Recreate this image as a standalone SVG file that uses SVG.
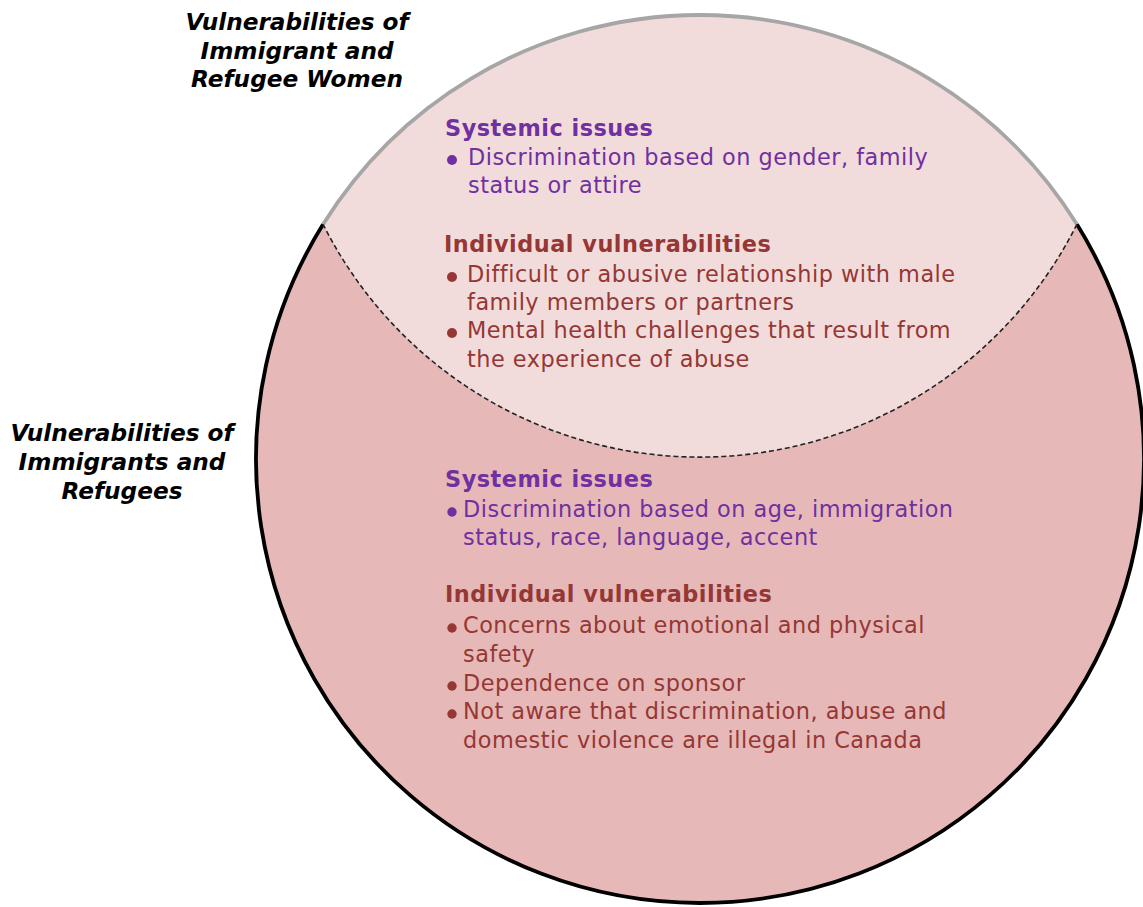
<svg xmlns="http://www.w3.org/2000/svg" width="1143" height="907" viewBox="0 0 1143 907">
<style>
.lbl{font-family:"DejaVu Sans",Verdana,sans-serif;font-weight:bold;font-style:italic;font-size:23.2px;fill:#000;text-anchor:middle}
.hd{font-family:"DejaVu Sans",Verdana,sans-serif;font-weight:bold;font-size:22.4px;letter-spacing:0.5px}
.tx{font-family:"DejaVu Sans",Verdana,sans-serif;font-size:22.4px;letter-spacing:0.5px}
.pu{fill:#7030A0}
.br{fill:#953735}
</style>
<rect width="1143" height="907" fill="#fff"/>
<g id="outer-circle">
<circle cx="700" cy="459" r="444" fill="#E6B9B8"/>
<path d="M1076.9,224.3 A444,444 0 1 1 323.1,224.3" fill="none" stroke="#000" stroke-width="3.8"/>
</g>
<g id="inner-lens">
<path d="M323.1,224.3 A444,444 0 0 1 1076.9,224.3 A421.5,421.5 0 0 1 323.1,224.3 Z" fill="#F2DCDB"/>
<path d="M323.1,224.3 A444,444 0 0 1 1076.9,224.3" fill="none" stroke="#A6A6A6" stroke-width="3.8"/>
</g>
<g id="connectors">
<path d="M1076.9,224.3 A421.5,421.5 0 0 1 323.1,224.3" fill="none" stroke="#222" stroke-width="1.6" stroke-dasharray="5,3"/>
</g>
<g id="label-women">
<text class="lbl" x="297" y="30">Vulnerabilities of</text>
<text class="lbl" x="297" y="59">Immigrant and</text>
<text class="lbl" x="297" y="87">Refugee Women</text>
</g>
<g id="label-all">
<text class="lbl" x="122" y="441">Vulnerabilities of</text>
<text class="lbl" x="122" y="470">Immigrants and</text>
<text class="lbl" x="122" y="499">Refugees</text>
</g>
<g id="women-content">
<text class="hd pu" x="445" y="136">Systemic issues</text>
<circle class="pu" cx="452" cy="160" r="5"/>
<text class="tx pu" x="468" y="165">Discrimination based on gender, family</text>
<text class="tx pu" x="468" y="193">status or attire</text>
<text class="hd br" x="444" y="252">Individual vulnerabilities</text>
<circle class="br" cx="452" cy="277" r="5"/>
<text class="tx br" x="467" y="282">Difficult or abusive relationship with male</text>
<text class="tx br" x="467" y="310">family members or partners</text>
<circle class="br" cx="452" cy="333" r="5"/>
<text class="tx br" x="467" y="338">Mental health challenges that result from</text>
<text class="tx br" x="467" y="367">the experience of abuse</text>
</g>
<g id="all-content">
<text class="hd pu" x="445" y="487">Systemic issues</text>
<circle class="pu" cx="452" cy="512" r="4.7"/>
<text class="tx pu" x="463" y="517">Discrimination based on age, immigration</text>
<text class="tx pu" x="463" y="545">status, race, language, accent</text>
<text class="hd br" x="445" y="602">Individual vulnerabilities</text>
<circle class="br" cx="452" cy="628" r="4.7"/>
<text class="tx br" x="463" y="633">Concerns about emotional and physical</text>
<text class="tx br" x="463" y="662">safety</text>
<circle class="br" cx="452" cy="686" r="4.7"/>
<text class="tx br" x="463" y="691">Dependence on sponsor</text>
<circle class="br" cx="452" cy="714" r="4.7"/>
<text class="tx br" x="463" y="719">Not aware that discrimination, abuse and</text>
<text class="tx br" x="463" y="748">domestic violence are illegal in Canada</text>
</g>
</svg>
